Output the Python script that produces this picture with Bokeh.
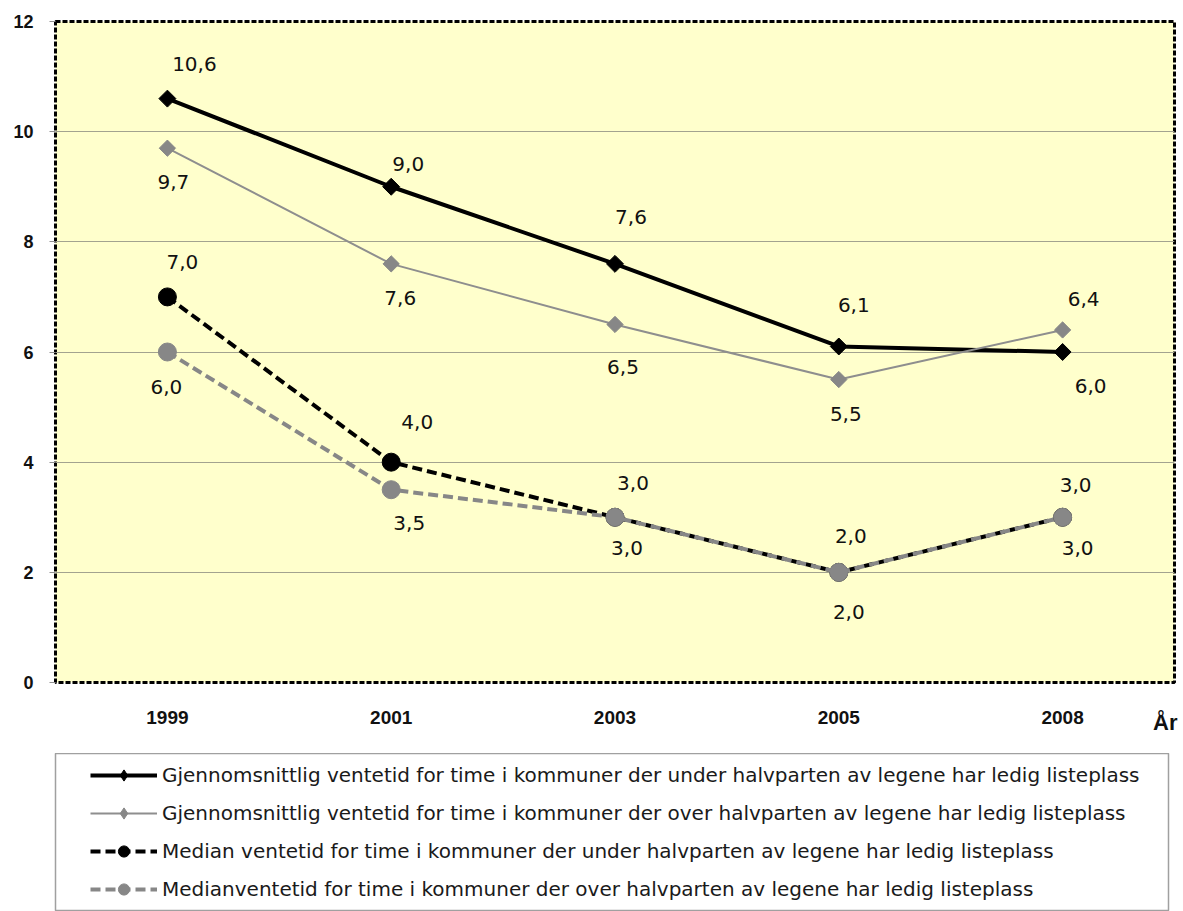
import numpy as np
from bokeh.plotting import figure
from bokeh.layouts import column
from bokeh.models import (ColumnDataSource, Legend, LegendItem,
                          FixedTicker, FactorRange, Range1d)
from bokeh.core.properties import value
from bokeh.embed import file_html
from bokeh.resources import INLINE

# ---------------- data ----------------
years = ["1999", "2001", "2003", "2005", "2008"]
snitt_under = [10.6, 9.0, 7.6, 6.1, 6.0]
snitt_over = [9.7, 7.6, 6.5, 5.5, 6.4]
median_under = [7.0, 4.0, 3.0, 2.0, 3.0]
median_over = [6.0, 3.5, 3.0, 2.0, 3.0]
y_ticks = [0, 2, 4, 6, 8, 10, 12]
x_title = "År"
series_names = [
    "Gjennomsnittlig ventetid for time i kommuner der under halvparten av legene har ledig listeplass",
    "Gjennomsnittlig ventetid for time i kommuner der over halvparten av legene har ledig listeplass",
    "Median ventetid for time i kommuner der under halvparten av legene har ledig listeplass",
    "Medianventetid for time i kommuner der over halvparten av legene har ledig listeplass",
]

# label placement (screen px offsets from each point; +dy = down)
lab_dx_1 = [27, 17, 16, 15, 28]
lab_dy_1 = [-35, -23, -47, -41, 34]
lab_dx_2 = [6, 9, 8, 7, 21]
lab_dy_2 = [34, 34, 43, 34, -31]
lab_dx_3 = [15, 26, 18, 12, 13]
lab_dy_3 = [-35, -40, -34, -36, -32]
lab_dx_4 = [-1, 18, 12, 10, 15]
lab_dy_4 = [35, 33, 31, 40, 31]

gray = "#878787"
styles = [
    dict(color="black", lw=4, dash="solid", marker="diamond", size=12, mcolor="black"),
    dict(color="#8e8e8e", lw=2, dash="solid", marker="diamond", size=11.5, mcolor=gray),
    dict(color="black", lw=4, dash="10 5", marker="circle", size=18, mcolor="black"),
    dict(color=gray, lw=4, dash="10 5", marker="circle", size=18, mcolor=gray),
]
series = [snitt_under, snitt_over, median_under, median_over]


def draw_series(fig, rotate_diamonds):
    out = []
    for vals, st in zip(series, styles):
        rl = fig.line(years, vals, line_color=st["color"], line_width=st["lw"], line_dash=st["dash"])
        marker, angle = st["marker"], 0.0
        if marker == "diamond" and rotate_diamonds:
            marker, angle = "square", np.pi / 4
        rm = fig.scatter(years, vals, marker=marker, angle=angle, size=st["size"],
                         fill_color=st["mcolor"], line_color=st["mcolor"])
        out.append((rl, rm))
    return out


# ---------------- main chart ----------------
p = figure(x_range=FactorRange(*years), y_range=Range1d(0, 12),
           frame_width=1119, frame_height=661,
           min_border_left=55, min_border_right=9, min_border_top=21, min_border_bottom=71,
           output_backend="svg", toolbar_location=None,
           background_fill_color="#FFFFCC", border_fill_color="white")

p.outline_line_color = "black"
p.outline_line_width = 3
p.outline_line_dash = "5 2"

p.xgrid.grid_line_color = None
p.ygrid.grid_line_color = "#a3a38f"
p.ygrid.grid_line_width = 1.2
p.ygrid.ticker = FixedTicker(ticks=y_ticks)

p.yaxis.ticker = FixedTicker(ticks=y_ticks)
p.yaxis.axis_line_color = None
p.yaxis.major_tick_in = 0
p.yaxis.major_tick_out = 6
p.yaxis.major_tick_line_color = "#909090"
p.yaxis.minor_tick_line_color = None
p.yaxis.major_label_standoff = 16
p.yaxis.major_label_text_font = "Liberation Sans"
p.yaxis.major_label_text_font_style = "bold"
p.yaxis.major_label_text_font_size = "18px"
p.yaxis.major_label_text_color = "#111111"

p.xaxis.axis_line_color = None
p.xaxis.major_tick_line_color = None
p.xaxis.major_tick_out = 0
p.xaxis.major_label_standoff = 28
p.xaxis.major_label_text_font = "Liberation Sans"
p.xaxis.major_label_text_font_style = "bold"
p.xaxis.major_label_text_font_size = "19px"
p.xaxis.major_label_text_color = "#111111"
p.xaxis.axis_label = x_title + "\u00a0\u00a0\u00a0"
p.xaxis.axis_label_align = "end"
p.xaxis.axis_label_standoff = -17
p.xaxis.axis_label_text_font = "Liberation Sans"
p.xaxis.axis_label_text_font_style = "bold"
p.xaxis.axis_label_text_font_size = "22px"
p.xaxis.axis_label_text_color = "#111111"

draw_series(p, rotate_diamonds=True)


def fmt(v):
    return f"{v:.1f}".replace(".", ",")


lx, ly, lt, ldx, ldy = [], [], [], [], []
for vals, dxs, dys in [(snitt_under, lab_dx_1, lab_dy_1), (snitt_over, lab_dx_2, lab_dy_2),
                       (median_under, lab_dx_3, lab_dy_3), (median_over, lab_dx_4, lab_dy_4)]:
    for yr, v, dx, dy in zip(years, vals, dxs, dys):
        lx.append(yr); ly.append(v); lt.append(fmt(v)); ldx.append(dx); ldy.append(dy)

lab_src = ColumnDataSource(dict(x=lx, y=ly, text=lt, dx=ldx, dy=ldy))
p.text(x="x", y="y", text="text", x_offset="dx", y_offset="dy", source=lab_src,
       text_align="center", text_baseline="middle",
       text_font=value("DejaVu Sans"), text_font_size="20px", text_color="#111111")

# ---------------- legend panel ----------------
# same series drawn outside the visible range, only to feed the legend keys
pl = figure(x_range=FactorRange(*years), y_range=Range1d(100, 101),
            frame_width=1113, frame_height=158,
            min_border_left=55, min_border_right=15, min_border_top=0, min_border_bottom=0,
            x_axis_type=None, y_axis_type=None,
            output_backend="svg", toolbar_location=None,
            background_fill_color="white", border_fill_color="white")
pl.grid.visible = False
pl.outline_line_color = "#a0a0a0"
pl.outline_line_width = 1.5

keys = draw_series(pl, rotate_diamonds=False)
legend = Legend(items=[LegendItem(label=name, renderers=[rl, rm])
                       for name, (rl, rm) in zip(series_names, keys)],
                location=(35, 8), orientation="vertical",
                padding=0, spacing=10, glyph_width=67, glyph_height=28, label_height=28,
                label_standoff=5, margin=0,
                label_text_font="DejaVu Sans", label_text_font_size="20px",
                label_text_color="#1a1a1a",
                border_line_color=None, background_fill_alpha=0.0)
pl.add_layout(legend, "center")

layout = column(p, pl, spacing=0)
open("out.html", "w").write(file_html(layout, INLINE))
